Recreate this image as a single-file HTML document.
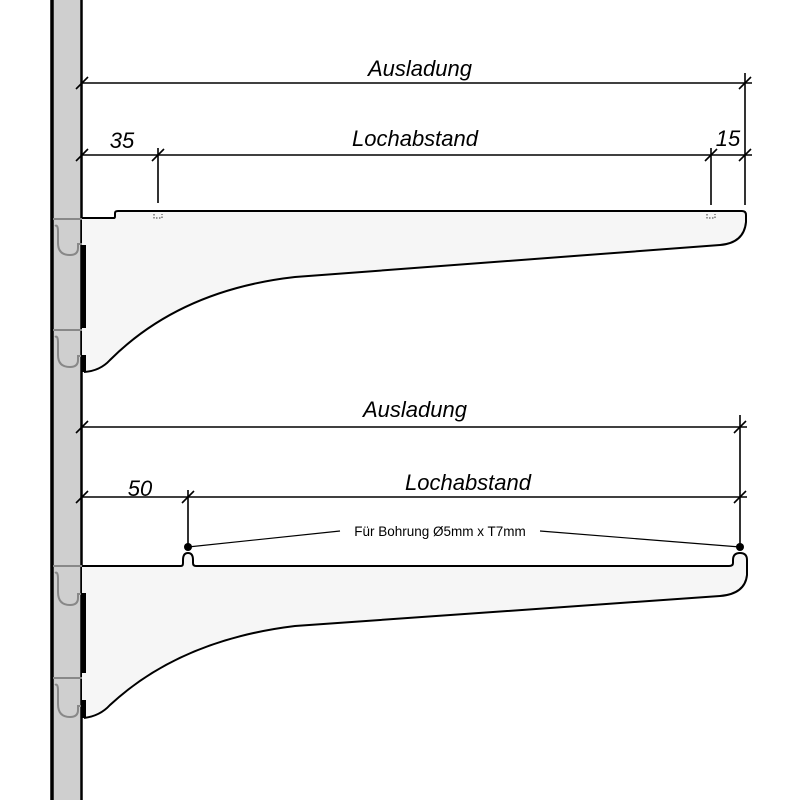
<!DOCTYPE html>
<html><head><meta charset="utf-8"><style>html,body{margin:0;padding:0;background:#fff}svg{display:block}</style></head>
<body>
<svg width="800" height="800" viewBox="0 0 800 800" xmlns="http://www.w3.org/2000/svg">
<!-- wall -->
<rect x="52" y="0" width="29" height="800" fill="#cfcfcf"/>
<line x1="52" y1="0" x2="52" y2="800" stroke="#000" stroke-width="3.5"/>
<line x1="81.5" y1="0" x2="81.5" y2="800" stroke="#000" stroke-width="2.5"/>
<!-- hooks -->
<g fill="none" stroke="#888" stroke-width="2">
<path d="M53,219 L82,219"/><path d="M55,226 Q58,224 58,232 L58,243 Q58,255 70,255 Q78,255 78,248 L78,244 L82,244"/>
<path d="M53,330 L82,330"/><path d="M55,337 Q58,335 58,343 L58,355 Q58,367 70,367 Q78,367 78,360 L78,356 L82,356"/>
<path d="M53,566 L82,566"/><path d="M55,573 Q58,571 58,579 L58,592 Q58,605 70,605 Q78,605 78,598 L78,594 L82,594"/>
<path d="M53,678 L82,678"/><path d="M55,685 Q58,683 58,691 L58,704 Q58,717 70,717 Q78,717 78,710 L78,706 L82,706"/>
</g>
<!-- top bracket -->
<path d="M82,218 L115,218 L116,211 L742,211 Q746,211 746,215 L746,222 Q744,243 720,245 L295,277 Q180,290 110,360 Q100,371 84,372 L82,372 Z" fill="#f6f6f6" stroke="none"/>
<path d="M82,218 L114,218 Q115,218 115,216 L115,213 Q115,211 118,211 L742,211 Q746,211 746,215 L746,222 Q744,243 720,245 L295,277 Q180,290 110,360 Q100,371 84,372" fill="none" stroke="#000" stroke-width="2"/>
<g fill="none" stroke="#333" stroke-width="1" stroke-dasharray="1.5,1.5"><path d="M154,214 L154,218 L162,218 L162,214"/><path d="M707,214 L707,218 L715,218 L715,214"/></g>
<rect x="81" y="245" width="5" height="83" fill="#000"/>
<rect x="81" y="355" width="5" height="17" fill="#000"/>
<!-- bottom bracket -->
<path d="M82,566 L183,566 L183,560 Q188,550 193,560 L193,566 L733,566 L733,560 Q738,552 744,556 Q747,559 747,565 L747,575 Q745,594 720,596 L295,626 Q180,640 110,705 Q100,716 84,718 L82,718 Z" fill="#f6f6f6"/>
<path d="M82,566 L181,566 Q183,566 183,563 L183,560 Q183,553 188,553 Q193,553 193,560 L193,563 Q193,566 196,566 L729,566 Q733,566 733,563 L733,560 Q733,553 740,553 Q747,553 747,560 L747,575 Q745,594 720,596 L295,626 Q180,640 110,705 Q100,716 84,718" fill="none" stroke="#000" stroke-width="2"/>
<rect x="81" y="593" width="5" height="80" fill="#000"/>
<rect x="81" y="700" width="5" height="18" fill="#000"/>
<!-- dimensions -->
<g stroke="#000" stroke-width="1.6" fill="none">
<line x1="82" y1="83" x2="752" y2="83"/>
<line x1="745" y1="73" x2="745" y2="205"/>
<line x1="82" y1="155" x2="752" y2="155"/>
<line x1="158" y1="148" x2="158" y2="203"/>
<line x1="711" y1="148" x2="711" y2="205"/>
<line x1="76" y1="89" x2="88" y2="77"/><line x1="739" y1="89" x2="751" y2="77"/>
<line x1="76" y1="161" x2="88" y2="149"/><line x1="152" y1="161" x2="164" y2="149"/>
<line x1="705" y1="161" x2="717" y2="149"/><line x1="739" y1="161" x2="751" y2="149"/>
<line x1="82" y1="427" x2="747" y2="427"/>
<line x1="740" y1="415" x2="740" y2="547"/>
<line x1="82" y1="497" x2="747" y2="497"/>
<line x1="188" y1="490" x2="188" y2="547"/>
<line x1="76" y1="433" x2="88" y2="421"/><line x1="734" y1="433" x2="746" y2="421"/>
<line x1="76" y1="503" x2="88" y2="491"/><line x1="182" y1="503" x2="194" y2="491"/><line x1="734" y1="503" x2="746" y2="491"/>
<line x1="188" y1="547" x2="340" y2="531" stroke-width="1.2"/>
<line x1="540" y1="531" x2="740" y2="547" stroke-width="1.2"/>
</g>
<circle cx="188" cy="547" r="4" fill="#000"/>
<circle cx="740" cy="547" r="4" fill="#000"/>
<g font-family="Liberation Sans, sans-serif" font-style="italic" font-size="22" fill="#000" text-anchor="middle">
<text x="420" y="76">Ausladung</text>
<text x="415" y="146">Lochabstand</text>
<text x="122" y="148">35</text>
<text x="728" y="146">15</text>
<text x="415" y="417">Ausladung</text>
<text x="468" y="490">Lochabstand</text>
<text x="140" y="496">50</text>
</g>
<text x="440" y="536" font-family="Liberation Sans, sans-serif" font-size="13.5" text-anchor="middle" fill="#000">Für Bohrung Ø5mm x T7mm</text>
</svg>
</body></html>
